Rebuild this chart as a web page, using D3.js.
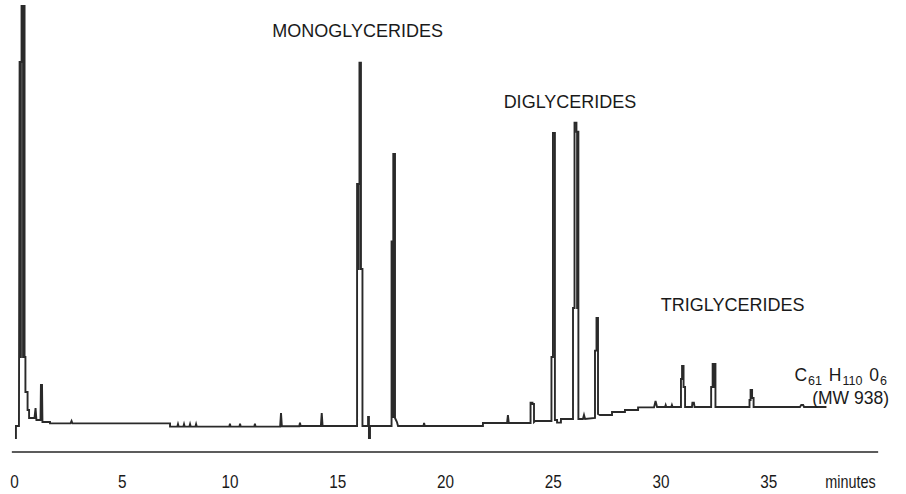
<!DOCTYPE html>
<html>
<head>
<meta charset="utf-8">
<script src="https://cdn.jsdelivr.net/npm/d3@7/dist/d3.min.js"></script>
<style>
  html, body { margin: 0; padding: 0; background: #fff; }
  svg { display: block; }
  text { font-family: "Liberation Sans", Arial, Helvetica, sans-serif; fill: #1a1a1a; }
</style>
</head>
<body>
<svg id="chart" width="906" height="494"></svg>
<script>
// Chromatogram trace: retention time (minutes) and detector signal (arbitrary units)
const traceTime = [
  0.09, 0.09, 0.23, 0.26, 0.29, 0.29, 0.32, 0.32, 0.35, 0.35, 0.42, 0.42, 0.45, 0.45, 0.49, 0.49, 0.53, 0.53, 0.63, 0.63, 0.70, 0.70,
  0.95, 1.00, 1.04, 1.23, 1.25, 1.30, 1.32, 1.67, 1.67,
  2.62, 2.67, 2.71, 7.24, 7.24,
  7.58, 7.61, 7.64, 7.86, 7.89, 7.92, 8.14, 8.17, 8.20, 8.42, 8.45, 8.48,
  9.99, 10.02, 10.05, 10.46, 10.49, 10.52, 11.15, 11.18, 11.21,
  12.35, 12.39, 12.43, 13.24, 13.27, 13.30, 14.24, 14.28, 14.32,
  15.92, 15.92, 15.97, 15.97, 16.00, 16.00, 16.03, 16.03, 16.10, 16.10, 16.17, 16.17,
  16.38, 16.43, 16.43, 16.47, 16.47, 16.52, 16.52,
  17.52, 17.52, 17.57, 17.57, 17.60, 17.60, 17.68, 17.68, 17.77, 17.82,
  19.00, 19.03, 19.06, 21.76, 21.76,
  22.88, 22.92, 22.96,
  23.97, 23.97, 24.06, 24.06, 24.13, 24.13, 24.18, 24.87,
  24.94, 24.94, 25.01, 25.01, 25.10, 25.10, 25.20, 25.20, 25.38, 25.38,
  25.94, 25.94, 26.01, 26.01, 26.10, 26.10, 26.13, 26.13, 26.16, 26.16, 26.19, 26.19, 26.40, 26.45, 26.50,
  26.96, 26.96, 27.03, 27.03, 27.10, 27.10, 27.19,
  27.75, 27.75, 28.35, 28.35, 28.96, 28.96, 29.70, 29.77, 29.84,
  30.21, 30.24, 30.27, 30.50, 30.53, 30.56,
  30.95, 30.95, 31.00, 31.00, 31.07, 31.07, 31.14, 31.14,
  31.46, 31.48, 31.55, 31.58,
  32.35, 32.35, 32.42, 32.42, 32.48, 32.48, 32.51, 32.51, 32.55, 32.55,
  34.13, 34.13, 34.18, 34.18, 34.25, 34.25, 34.32, 34.32,
  36.47, 36.53, 36.62, 36.66, 37.70
];
const traceSignal = [
  -0.5, 2.75, 2.75, 93.75, 93.75, 20, 20, 93.75, 93.75, 107.75, 107.75, 20, 20, 107.75, 107.75, 20, 20, 11.25, 11.25, 6.75, 6.75, 4.75,
  4.75, 7.25, 4.25, 4.25, 13, 13, 3.75, 3.75, 3.4,
  3.4, 4.0, 3.4, 3.4, 2.6,
  2.6, 3.2, 2.6, 2.6, 3.2, 2.6, 2.6, 3.2, 2.6, 2.6, 3.2, 2.6,
  2.6, 3.3, 2.6, 2.6, 3.3, 2.6, 2.6, 3.3, 2.6,
  2.6, 6.0, 2.7, 2.7, 3.6, 2.75, 2.75, 6.0, 2.75,
  2.75, 63.25, 63.25, 42, 42, 63.25, 63.25, 93.6, 93.6, 42, 42, 2.75,
  2.75, 2.75, 5.0, 5.0, -0.25, -0.25, 2.75,
  2.75, 48.9, 48.9, 5.0, 5.0, 70.75, 70.75, 4.75, 3.75, 2.75,
  2.75, 3.5, 2.75, 2.75, 3.5,
  3.5, 5.5, 3.5,
  3.5, 8.6, 8.6, 8.25, 8.25, 3.75, 4.0, 4.0,
  4.0, 20, 20, 76, 76, 4.25, 4.25, 3.6, 3.6, 4.5,
  4.5, 32.25, 32.25, 78.6, 78.6, 76.3, 76.3, 32.25, 32.25, 76.3, 76.3, 4.5, 4.5, 5.5, 4.5,
  4.75, 21.6, 21.6, 29.75, 29.75, 5.75, 5.5,
  5.5, 6.25, 6.25, 6.75, 6.75, 7.4, 7.4, 9.0, 7.5,
  7.5, 8.0, 7.5, 7.5, 8.0, 7.5,
  7.5, 14.5, 14.5, 17.75, 17.75, 12.5, 12.5, 7.5,
  7.5, 8.6, 8.6, 7.5,
  7.5, 12.5, 12.5, 18.25, 18.25, 12.5, 12.5, 18.25, 18.25, 7.5,
  7.5, 9.25, 9.25, 11.75, 11.75, 9.75, 9.75, 7.5,
  7.5, 8.0, 8.0, 7.5, 7.5
];
const tickValues = [0, 5, 10, 15, 20, 25, 30, 35];
const axisUnit = "minutes";
const groupLabels = ["MONOGLYCERIDES", "DIGLYCERIDES", "TRIGLYCERIDES"];
const groupLabelTime = [15.95, 25.8, 33.35];
const groupLabelSignal = [100, 82.25, 31.5];

const svg = d3.select("#chart");
const x = d3.scaleLinear().domain([0, 40]).range([14, 876]);
const y = d3.scaleLinear().domain([0, 108]).range([437, 5]);

const n = Math.min(traceTime.length, traceSignal.length);
const pts = d3.range(n).map(i => [traceTime[i], traceSignal[i]]);
const line = d3.line().x(d => x(d[0])).y(d => y(d[1]));

svg.append("path")
  .datum(pts)
  .attr("d", line)
  .attr("fill", "none")
  .attr("stroke", "#2a2a2a")
  .attr("stroke-width", 1.9)
  .attr("stroke-linejoin", "miter")
  .attr("stroke-linecap", "butt");

// Axis
const axis = d3.axisBottom(x).tickValues(tickValues).tickSize(0).tickSizeOuter(0);
const ag = svg.append("g").attr("transform", "translate(0,452)").call(axis);
ag.select(".domain").attr("stroke", "#262626").attr("stroke-width", 1.5)
  .attr("d", `M${x(-0.1)},0H${x(40.1)}`);
ag.selectAll(".tick text")
  .attr("font-family", "'Liberation Sans', Arial, sans-serif")
  .attr("font-size", 18).attr("fill", "#1a1a1a")
  .attr("y", 36).attr("dy", 0)
  .attr("transform", "scale(0.85,1)");
svg.append("text")
  .attr("transform", `translate(${x(37.65)},488) scale(0.8,1)`)
  .attr("font-size", 18)
  .text(axisUnit);

// Group labels
groupLabels.forEach((lab, i) => {
  svg.append("text")
    .attr("x", x(groupLabelTime[i])).attr("y", y(groupLabelSignal[i]))
    .attr("text-anchor", "middle")
    .attr("font-size", 18)
    .text(lab);
});

// Formula label
const f = svg.append("text").attr("x", 887).attr("y", 381).attr("text-anchor", "end").attr("font-size", 17.5);
f.append("tspan").text("C");
f.append("tspan").attr("font-size", 12.5).attr("dy", 3.5).attr("dx", 1).text("61");
f.append("tspan").attr("dy", -3.5).attr("dx", 2).text(" H");
f.append("tspan").attr("font-size", 12.5).attr("dy", 3.5).attr("dx", 1).text("110");
f.append("tspan").attr("dy", -3.5).attr("dx", 2).text(" 0");
f.append("tspan").attr("font-size", 12.5).attr("dy", 3.5).attr("dx", 1).text("6");
svg.append("text").attr("x", 889).attr("y", 404).attr("text-anchor", "end").attr("font-size", 17.5).text("(MW 938)");
</script>
</body>
</html>
